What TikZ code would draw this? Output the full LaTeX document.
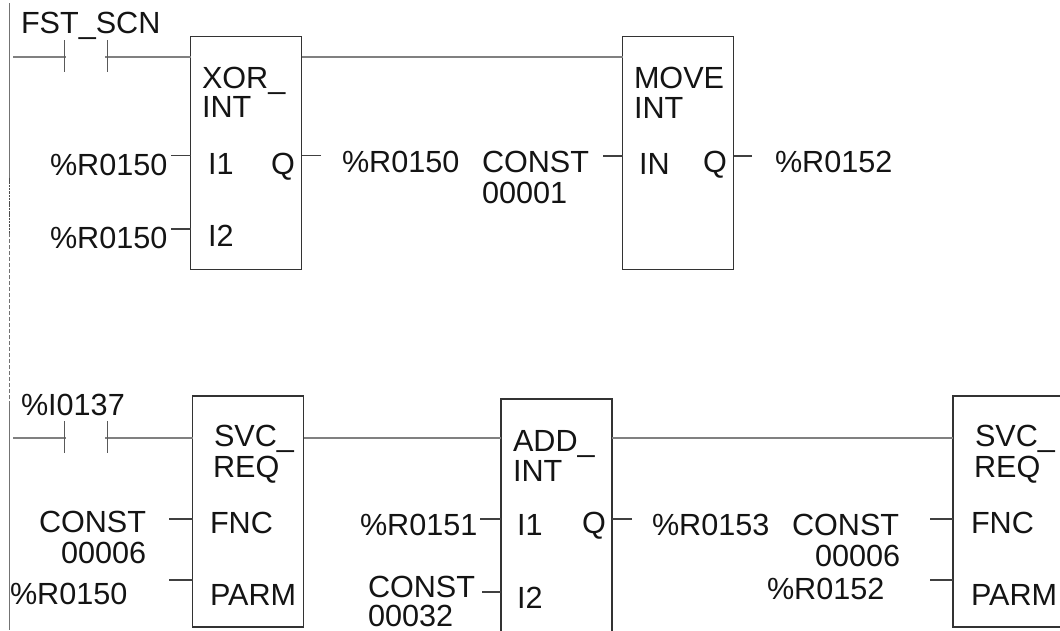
\documentclass[tikz,border=0pt]{standalone}
\usepackage{fontspec}
\setmainfont{Liberation Sans}
\tikzset{
  lbl/.style={anchor=base west,inner sep=0pt,outer sep=0pt,yshift=-0.6pt,font=\fontsize{30.6}{30.6}\selectfont,text=black!92},
  fblock/.style={draw=black!80,line width=1.2pt,rectangle,inner sep=0pt,outer sep=0pt,anchor=north west},
  rung/.style={draw=black!50,line width=1.5pt},
  pin/.style={draw=black!75,line width=1.1pt},
  bar/.style={draw=black!65,line width=1.1pt},
  rail/.style={draw=black!55,line width=1.3pt},
  raildark/.style={draw=black!70,line width=1.4pt,dash pattern=on 2.5pt off 0.8pt},
  raild/.style={draw=black!55,line width=1.3pt,dash pattern=on 4pt off 2pt}
}
\begin{document}
\begin{tikzpicture}[x=1pt,y=-1pt]
\clip (0,0) rectangle (1060,630);
\fill[white] (0,0) rectangle (1060,630);
% rail
\coordinate (r0) at (9.5,3);
\coordinate (r1) at (9.5,178);
\coordinate (r1b) at (9.5,233);
\coordinate (r2) at (9.5,405);
\coordinate (r3) at (9.5,630);
\draw[rail] (r0) -- (r1);
\draw[raildark] (r1) -- (r1b);
\draw[raild] (r1b) -- (r2);
\draw[rail] (r2) -- (r3);
% blocks
\node[fblock,minimum width=111pt,minimum height=233pt] (xor) at (190.5,36.5) {};
\node[fblock,minimum width=111pt,minimum height=233pt] (mov) at (622.5,36.5) {};
\node[fblock,minimum width=111pt,minimum height=231pt] (svca) at (192.5,396) {};
\node[fblock,minimum width=111pt,minimum height=260pt] (add) at (501,399) {};
\node[fblock,minimum width=130pt,minimum height=231pt] (svcb) at (953,396) {};
% top rung
\coordinate (ta) at (13,57);
\coordinate (tb) at (66,57);
\coordinate (tc) at (105,57);
\coordinate (tb1) at (64.5,40);
\coordinate (tb2) at (64.5,72);
\coordinate (tc1) at (107.5,40);
\coordinate (tc2) at (107.5,72);
\draw[rung] (ta) -- (tb);
\draw[rung] (tc) -- (tc -| xor.west);
\draw[bar] (tb1) -- (tb2);
\draw[bar] (tc1) -- (tc2);
\coordinate (tm) at (301.5,57);
\draw[rung] (xor.east |- tm) -- (mov.west |- tm);
% bottom rung
\coordinate (ba) at (13,438);
\coordinate (bb) at (66,438);
\coordinate (bc) at (105,438);
\coordinate (bb1) at (64.5,421);
\coordinate (bb2) at (64.5,453);
\coordinate (bc1) at (107.5,421);
\coordinate (bc2) at (107.5,453);
\draw[rung] (ba) -- (bb);
\draw[rung] (bc) -- (bc -| svca.west);
\draw[bar] (bb1) -- (bb2);
\draw[bar] (bc1) -- (bc2);
\coordinate (bm) at (400,438);
\draw[rung] (svca.east |- bm) -- (add.west |- bm);
\draw[rung] (add.east |- bm) -- (svcb.west |- bm);
% pins
\coordinate (p1) at (171,155.5);
\coordinate (p2) at (171,229);
\coordinate (p3) at (321,155.5);
\coordinate (p4) at (603,156);
\coordinate (p5) at (752,156);
\coordinate (p6) at (169,519);
\coordinate (p7) at (169,580);
\coordinate (p8) at (480,519);
\coordinate (p9) at (482,592);
\coordinate (p10) at (632,519);
\coordinate (p11) at (930,519);
\coordinate (p12) at (930,580);
\draw[pin] (p1) -- (p1 -| xor.west);
\draw[pin] (p2) -- (p2 -| xor.west);
\draw[pin] (p3) -- (p3 -| xor.east);
\draw[pin] (p4) -- (p4 -| mov.west);
\draw[pin] (p5) -- (p5 -| mov.east);
\draw[pin] (p6) -- (p6 -| svca.west);
\draw[pin] (p7) -- (p7 -| svca.west);
\draw[pin] (p8) -- (p8 -| add.west);
\draw[pin] (p9) -- (p9 -| add.west);
\draw[pin] (p10) -- (p10 -| add.east);
\draw[pin] (p11) -- (p11 -| svcb.west);
\draw[pin] (p12) -- (p12 -| svcb.west);
% labels top
\node[lbl] (l1) at (21,33) {FST\_SCN};
\node[lbl] (l2) at (202,88) {XOR\_};
\node[lbl] (l3) at (202,117) {INT};
\node[lbl] (l4) at (50,175) {\%R0150};
\node[lbl] (l5) at (50,248) {\%R0150};
\node[lbl] (l6) at (208,174) {I1};
\node[lbl] (l7) at (271,174) {Q};
\node[lbl] (l8) at (208,246) {I2};
\node[lbl] (l9) at (342,172) {\%R0150};
\node[lbl] (l10) at (482,172) {CONST};
\node[lbl] (l11) at (482,203) {00001};
\node[lbl] (l12) at (634,88) {MOVE};
\node[lbl] (l13) at (634,118) {INT};
\node[lbl] (l14) at (639,174) {IN};
\node[lbl] (l15) at (703,172) {Q};
\node[lbl] (l16) at (775,172) {\%R0152};
% labels bottom
\node[lbl] (l17) at (21,415) {\%I0137};
\node[lbl] (l18) at (214,446) {SVC\_};
\node[lbl] (l19) at (213,477) {REQ};
\node[lbl] (l20) at (210,533) {FNC};
\node[lbl] (l21) at (210,605) {PARM};
\node[lbl] (l22) at (39,532) {CONST};
\node[lbl] (l23) at (61,563) {00006};
\node[lbl] (l24) at (10,604) {\%R0150};
\node[lbl] (l25) at (513,451) {ADD\_};
\node[lbl] (l26) at (513,481) {INT};
\node[lbl] (l27) at (517,535) {I1};
\node[lbl] (l28) at (582,533) {Q};
\node[lbl] (l29) at (517,608) {I2};
\node[lbl] (l30) at (360,535) {\%R0151};
\node[lbl] (l31) at (368,597) {CONST};
\node[lbl] (l32) at (368,626) {00032};
\node[lbl] (l33) at (652,535) {\%R0153};
\node[lbl] (l34) at (792,535) {CONST};
\node[lbl] (l35) at (815,566) {00006};
\node[lbl] (l36) at (767,599) {\%R0152};
\node[lbl] (l37) at (975,446) {SVC\_};
\node[lbl] (l38) at (974,477) {REQ};
\node[lbl] (l39) at (971,533) {FNC};
\node[lbl] (l40) at (971,605) {PARM};
\end{tikzpicture}
\end{document}
